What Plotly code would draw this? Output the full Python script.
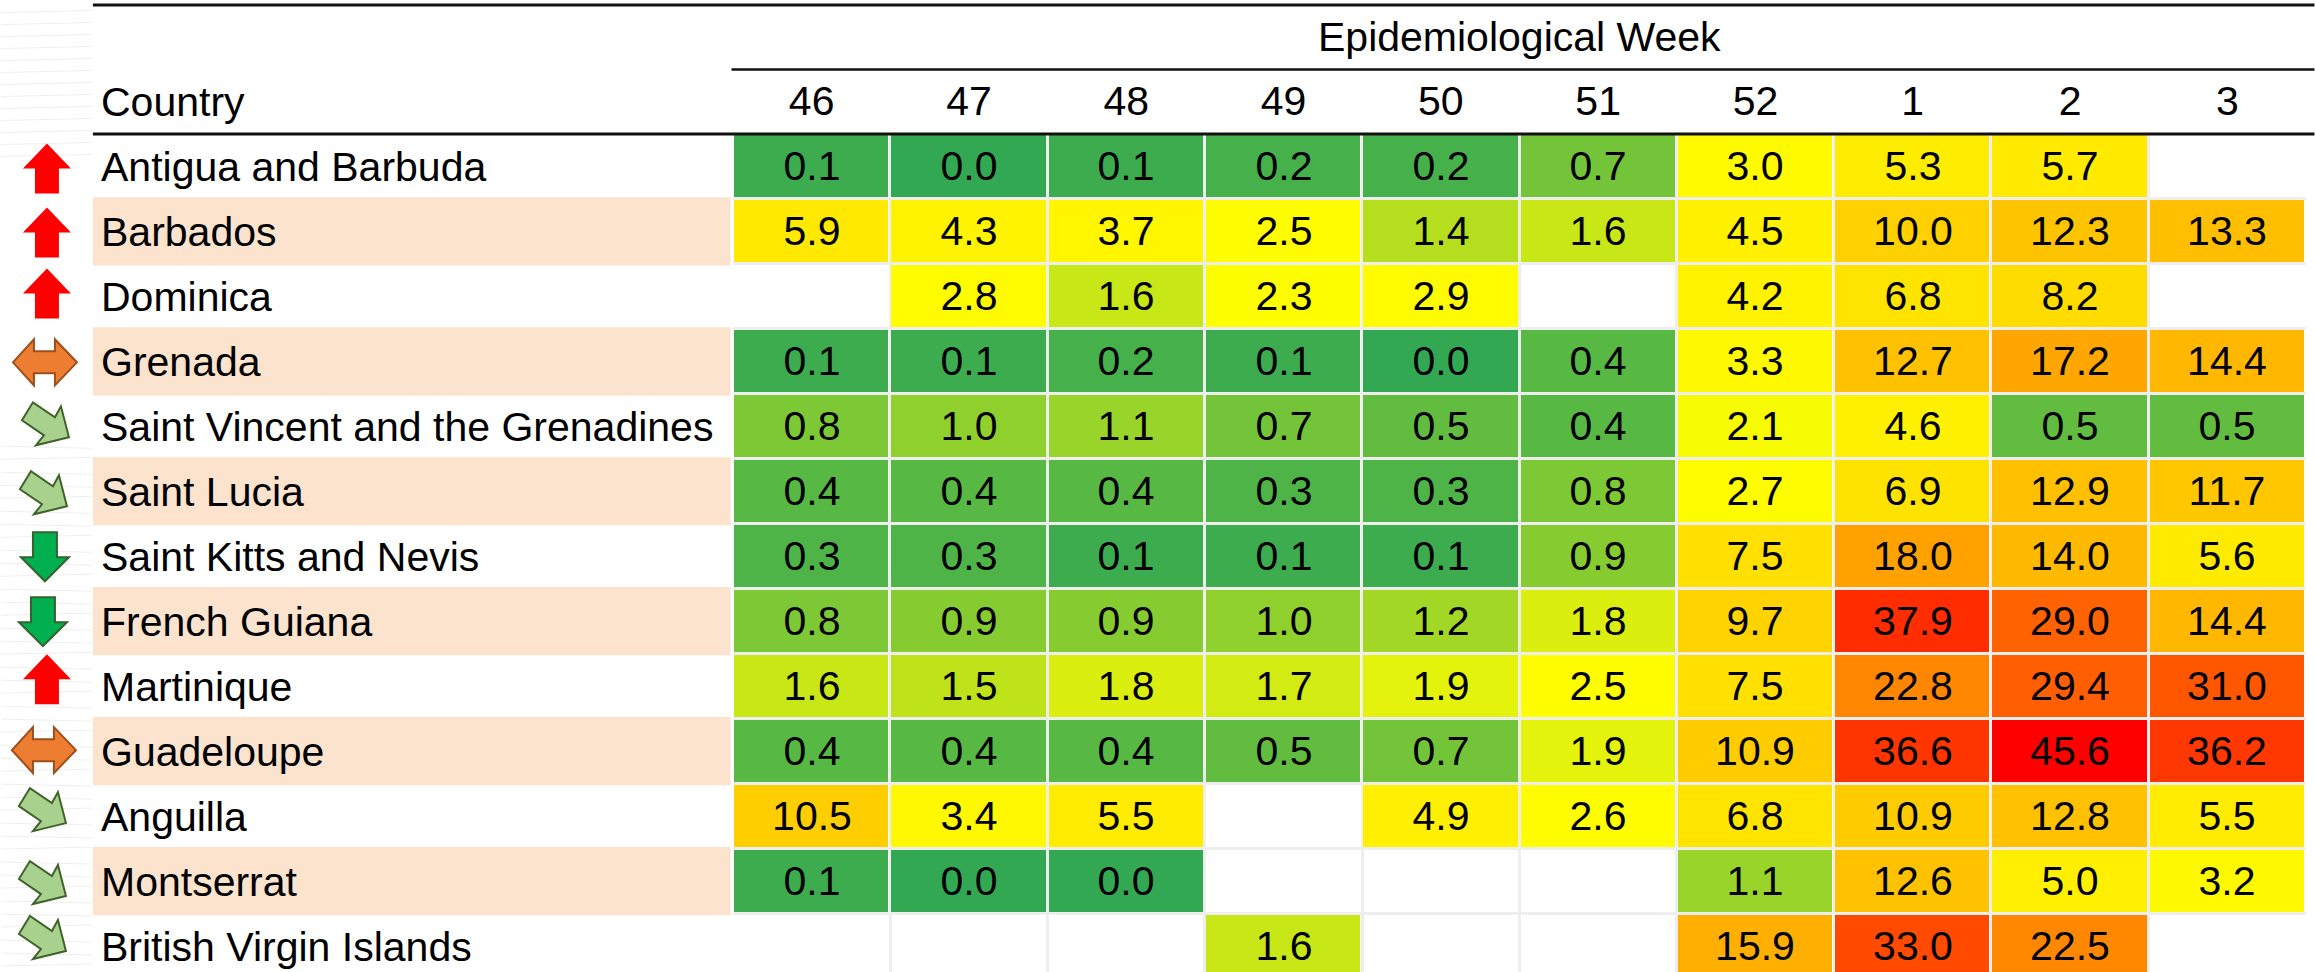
import plotly.graph_objects as go

weeks = ["46", "47", "48", "49", "50", "51", "52", "1", "2", "3"]
countries = ["Antigua and Barbuda", "Barbados", "Dominica", "Grenada",
             "Saint Vincent and the Grenadines", "Saint Lucia", "Saint Kitts and Nevis",
             "French Guiana", "Martinique", "Guadeloupe", "Anguilla", "Montserrat",
             "British Virgin Islands"]
N = None
antigua = [0.1, 0.0, 0.1, 0.2, 0.2, 0.7, 3.0, 5.3, 5.7, N]
barbados = [5.9, 4.3, 3.7, 2.5, 1.4, 1.6, 4.5, 10.0, 12.3, 13.3]
dominica = [N, 2.8, 1.6, 2.3, 2.9, N, 4.2, 6.8, 8.2, N]
grenada = [0.1, 0.1, 0.2, 0.1, 0.0, 0.4, 3.3, 12.7, 17.2, 14.4]
st_vincent = [0.8, 1.0, 1.1, 0.7, 0.5, 0.4, 2.1, 4.6, 0.5, 0.5]
st_lucia = [0.4, 0.4, 0.4, 0.3, 0.3, 0.8, 2.7, 6.9, 12.9, 11.7]
st_kitts = [0.3, 0.3, 0.1, 0.1, 0.1, 0.9, 7.5, 18.0, 14.0, 5.6]
fr_guiana = [0.8, 0.9, 0.9, 1.0, 1.2, 1.8, 9.7, 37.9, 29.0, 14.4]
martinique = [1.6, 1.5, 1.8, 1.7, 1.9, 2.5, 7.5, 22.8, 29.4, 31.0]
guadeloupe = [0.4, 0.4, 0.4, 0.5, 0.7, 1.9, 10.9, 36.6, 45.6, 36.2]
anguilla = [10.5, 3.4, 5.5, N, 4.9, 2.6, 6.8, 10.9, 12.8, 5.5]
montserrat = [0.1, 0.0, 0.0, N, N, N, 1.1, 12.6, 5.0, 3.2]
bvi = [N, N, N, 1.6, N, N, 15.9, 33.0, 22.5, N]
trends = ["up", "up", "up", "flat", "easing", "easing", "down", "down", "up", "flat",
          "easing", "easing", "easing"]

z = [antigua, barbados, dominica, grenada, st_vincent, st_lucia, st_kitts, fr_guiana,
     martinique, guadeloupe, anguilla, montserrat, bvi]
labels = [["" if v is None else f"{v:.1f}" for v in row] for row in z]

# ---- page geometry (pixels) ----
W, H = 2315, 972
LEFT, RIGHT, TOP = 732.5, 2306.5, 133.5
ROW = 65
FONT = "Liberation Sans, Arial, sans-serif"
FS = 41

def px(x):
    return (x - LEFT) / (RIGHT - LEFT)

def py(y):
    return 1 - (y - TOP) / (H - TOP)

ICONS = {
    "up": dict(path="M0,25 L24,0 L12,0 L12,-25 L-12,-25 L-12,0 L-24,0 Z",
               fill="#ff0000", line="#ff0000", w=0),
    "down": dict(path="M-12,24 L12,24 L12,-1 L24,-1 L0,-25 L-24,-1 L-12,-1 Z",
                 fill="#00b050", line="#35622c", w=2),
    "flat": dict(path="M-32,0 L-11,23 L-11,11 L10,11 L10,23 L32,0 L10,-23 L10,-11 L-11,-11 L-11,-23 Z",
                 fill="#ed7d31", line="#9a4f1c", w=2),
    "easing": dict(path="M-23,6 L-12,24 L10,9 L16,20 L24,-11 L-9,-19 L-1,-9 Z",
                   fill="#a9d18e", line="#3f6329", w=2),
}
# hand-placed icon offsets from each row centre: (dx, dy down)
nudge = [(2, 2), (2, 1), (2, -3), (0, 1), (0, 0), (-2, 4), (0, 0), (-2, 0), (2, -7), (-1, -1),
         (-3, -4), (-3, 4), (-3, -6)]

shapes = []
# faint paper texture left of the table
for y in list(range(12, 160, 12)) + list(range(446, 972, 13)):
    shapes.append(dict(type="line", xref="paper", yref="paper", x0=px(0), x1=px(91),
                       y0=py(y), y1=py(y + (2 if y % 3 else -2)),
                       line=dict(color="#efefef", width=1), layer="below"))
# banding of the country column
for i in range(1, len(countries), 2):
    shapes.append(dict(type="rect", xref="paper", yref="y", x0=px(92), x1=px(730),
                       y0=i - 0.525, y1=i + 0.525, fillcolor="#fbe3cd", line_width=0, layer="below"))
# rules
for x0, y, w in [(92, 4.5, 3), (731, 69, 2.5), (92, 133.5, 3)]:
    shapes.append(dict(type="line", xref="paper", yref="paper", x0=px(x0), x1=px(W),
                       y0=py(y), y1=py(y), line=dict(color="#111111", width=w)))
# trend icons
for i, t in enumerate(trends):
    ic = ICONS[t]
    dx, dy = nudge[i]
    shapes.append(dict(type="path", xref="paper", yref="y", xsizemode="pixel", ysizemode="pixel",
                       xanchor=px(44 + dx), yanchor=i + dy / ROW, path=ic["path"],
                       fillcolor=ic["fill"], line=dict(color=ic["line"], width=ic["w"])))

annotations = [dict(xref="paper", yref="y", x=px(98), y=c, text=c, showarrow=False, xanchor="left",
                    yanchor="middle", yshift=-1, font=dict(size=FS, color="#000000", family=FONT))
               for c in countries]
annotations += [
    dict(xref="paper", yref="paper", x=px(98), y=py(101), text="Country", showarrow=False,
         xanchor="left", yanchor="middle", font=dict(size=FS, color="#000000", family=FONT)),
    dict(xref="paper", yref="paper", x=px(1519), y=py(36), text="Epidemiological Week", showarrow=False,
         xanchor="center", yanchor="middle", font=dict(size=FS, color="#000000", family=FONT)),
]

fig = go.Figure(go.Heatmap(
    x=weeks, y=countries, z=z, text=labels, texttemplate="%{text}",
    textfont=dict(size=FS, color="#000000", family=FONT),
    colorscale=[[0, "#33a853"], [2.2 / 45.6, "#ffff00"], [1, "#ff0000"]],
    zmin=0, zmax=45.6, showscale=False, xgap=3, ygap=3, hoverongaps=False,
))
fig.update_layout(
    width=W, height=H, margin=dict(l=LEFT, r=W - RIGHT, t=TOP, b=0, pad=0),
    paper_bgcolor="#ffffff", plot_bgcolor="#ffffff", shapes=shapes, annotations=annotations,
    showlegend=False,
)
fig.update_xaxes(type="category", side="top", categoryorder="array", categoryarray=weeks,
                 tickson="boundaries", showgrid=True, gridcolor="#eeeeee", gridwidth=3,
                 zeroline=False, showline=False, ticks="", ticklen=0,
                 tickfont=dict(size=FS, color="#000000", family=FONT), ticklabelstandoff=10)
fig.update_yaxes(type="category", categoryorder="array", categoryarray=countries,
                 range=[(H - TOP) / ROW - 0.5, -0.5], tickson="boundaries", showgrid=True,
                 gridcolor="#eeeeee", gridwidth=3, zeroline=False, showline=False,
                 showticklabels=False, ticks="")

fig.write_html("out.html", config=dict(displayModeBar=False),
               post_script="document.body.style.margin='0';document.body.style.overflow='hidden';")
